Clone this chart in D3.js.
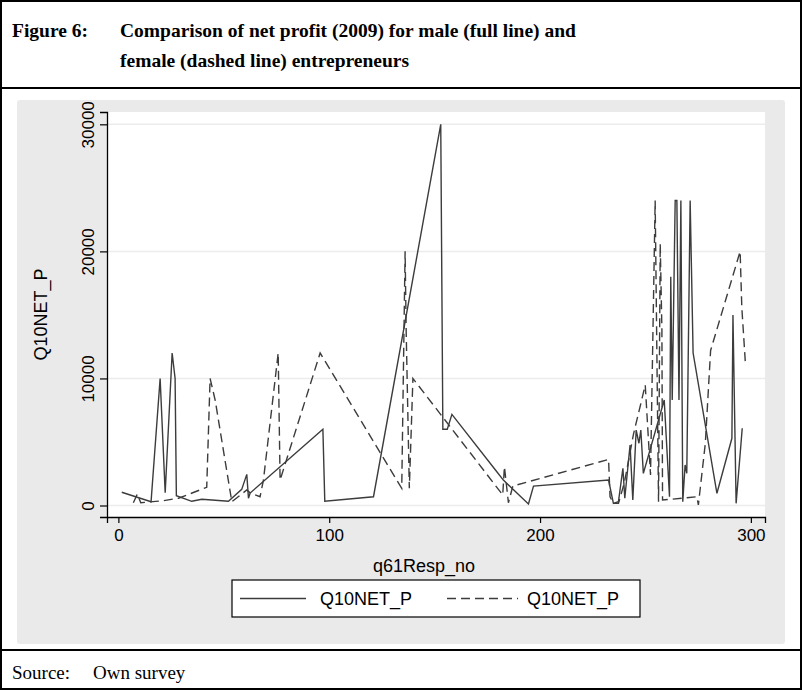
<!DOCTYPE html>
<html>
<head>
<meta charset="utf-8">
<script src="https://cdn.jsdelivr.net/npm/d3@7"></script>
<style>
  body { margin: 0; background: #fff; }
  text { fill: #000; }
</style>
</head>
<body>
<svg width="802" height="690"></svg>
<script>
// respondent number and net profit, male (full line)
const maleResp = [1.6, 15.5, 19.8, 22.2, 25.5, 26.9, 27.5, 34.8, 39.6, 52.2, 58.5, 60.9, 61.7, 62.5,
  97, 97.9, 121, 152.9, 153.9, 156, 158.2, 179.5, 182.6, 194.5, 196.9, 232.5, 234.8, 237.2,
  239.3, 240.2, 242.7, 244, 245.6, 246.9, 247.8, 249, 258.9, 261.4, 262, 262.7, 264.1, 264.9,
  265.9, 266.8, 267.7, 268.8, 269.6, 271.2, 272.6, 283.9, 291, 291.5, 293, 295.9];
const maleProfit = [1040, 300, 10000, 1000, 12000, 10000, 770, 330, 490, 330, 1270, 2450, 570, 980,
  6000, 330, 690, 30000, 6000, 6000, 7170, 2660, 2000, 120, 1530, 2000, 170, 300,
  2930, 570, 4760, 430, 5940, 4900, 5940, 2530, 8300, 690, 18000, 8300, 24000, 24000,
  8300, 24000, 300, 3190, 2530, 24000, 12000, 960, 5290, 15000, 170, 6080];

// female (dashed line)
const femaleResp = [7.1, 9, 10.6, 21.3, 28.5, 41.9, 43.5, 45.9, 53.8, 60.9, 62.5, 67.2, 68.8,
  75.8, 76.7, 95.7, 134.4, 136, 136.5, 138, 139.7, 182.3, 183.1, 185, 187.1, 232.5, 233.2,
  234.8, 237.2, 240, 244.3, 249.9, 252.4, 254.6, 255.1, 256.2, 257, 257.8, 258.1, 267.3,
  274.4, 275.1, 278.4, 280.9, 294.9, 295.7, 297.4];
const femaleProfit = [220, 900, 220, 380, 570, 1430, 10000, 8300, 300, 1220, 1000, 690, 2000,
  12000, 2000, 12000, 1350, 20000, 13800, 1350, 10000, 830, 3050, 220, 1530, 3630, 690,
  170, 170, 1800, 5600, 9480, 2400, 24000, 16700, 300, 20600, 13800, 430, 570,
  690, 40, 4900, 12200, 20000, 15600, 11200];

const xTicks = [0, 100, 200, 300];
const yTicks = [0, 10000, 20000, 30000];
const seriesNames = ["Q10NET_P", "Q10NET_P"];

const svg = d3.select("svg");
const W = 802, H = 690;
const ink = "#3c3c3c";

// outer frame and separators
svg.append("rect").attr("x", 1).attr("y", 1).attr("width", W - 2).attr("height", H - 2)
  .attr("fill", "none").attr("stroke", "#000").attr("stroke-width", 2);
svg.append("line").attr("x1", 0).attr("x2", W).attr("y1", 88).attr("y2", 88)
  .attr("stroke", "#000").attr("stroke-width", 2);
svg.append("line").attr("x1", 0).attr("x2", W).attr("y1", 650).attr("y2", 650)
  .attr("stroke", "#000").attr("stroke-width", 2);

// title
const title = svg.append("g").style("font-family", "'Liberation Serif', 'Times New Roman', serif")
  .style("font-weight", "bold").style("font-size", "19.5px");
title.append("text").attr("x", 12).attr("y", 37).text("Figure 6:");
title.append("text").attr("x", 120).attr("y", 37).text("Comparison of net profit (2009) for male (full line) and");
title.append("text").attr("x", 120).attr("y", 67).text("female (dashed line) entrepreneurs");

// source
const src = svg.append("g").style("font-family", "'Liberation Serif', 'Times New Roman', serif")
  .style("font-size", "19px");
src.append("text").attr("x", 12).attr("y", 679).text("Source:");
src.append("text").attr("x", 93).attr("y", 679).text("Own survey");

// graph region background
svg.append("rect").attr("x", 17).attr("y", 100).attr("width", 768).attr("height", 544)
  .attr("rx", 3).attr("fill", "#eaeaea");

const plot = { left: 107, right: 765, top: 112, bottom: 517 };
svg.append("rect").attr("x", plot.left).attr("y", plot.top)
  .attr("width", plot.right - plot.left).attr("height", plot.bottom - plot.top).attr("fill", "#fff");

const x = d3.scaleLinear().domain([-5.4, 306.7]).range([plot.left, plot.right]);
const y = d3.scaleLinear().domain([-905, 30970]).range([plot.bottom, plot.top]);

// grid
svg.append("g").selectAll("line").data(yTicks).join("line")
  .attr("x1", plot.left).attr("x2", plot.right)
  .attr("y1", d => y(d)).attr("y2", d => y(d))
  .attr("stroke", "#ececec").attr("stroke-width", 1.5);

const axisFont = "'Liberation Sans', Arial, Helvetica, sans-serif";

// x axis
const xAxis = svg.append("g").attr("transform", `translate(0,${plot.bottom})`)
  .call(d3.axisBottom(x).tickValues(xTicks).tickSize(6).tickPadding(6).tickFormat(d3.format("d")));
xAxis.select(".domain").attr("stroke", "#000").attr("stroke-width", 1.3);
xAxis.selectAll(".tick line").attr("stroke", "#000").attr("stroke-width", 1.2);
xAxis.selectAll("text").style("font-family", axisFont).style("font-size", "17px").attr("fill", "#000");

// y axis with rotated labels
const yAxis = svg.append("g").attr("transform", `translate(${plot.left},0)`)
  .call(d3.axisLeft(y).tickValues(yTicks).tickSize(7).tickFormat(d3.format("d")));
yAxis.select(".domain").attr("stroke", "#000").attr("stroke-width", 1.3);
yAxis.selectAll(".tick line").attr("stroke", "#000").attr("stroke-width", 1.2);
yAxis.selectAll("text")
  .attr("x", null).attr("dy", null)
  .attr("transform", "translate(-13,0) rotate(-90)")
  .attr("text-anchor", "middle")
  .style("font-family", axisFont).style("font-size", "17px").attr("fill", "#000");

// axis titles
svg.append("text").attr("x", 424).attr("y", 572)
  .attr("text-anchor", "middle").style("font-family", axisFont).style("font-size", "18px")
  .text("q61Resp_no");
svg.append("text").attr("transform", `translate(47,${(plot.top + plot.bottom) / 2}) rotate(-90)`)
  .attr("text-anchor", "middle").style("font-family", axisFont).style("font-size", "18px")
  .text("Q10NET_P");

// lines
const line = d3.line().x(d => x(d[0])).y(d => y(d[1]));
const male = d3.zip(maleResp, maleProfit);
const female = d3.zip(femaleResp, femaleProfit);

svg.append("path").datum(male).attr("d", line)
  .attr("fill", "none").attr("stroke", ink).attr("stroke-width", 1.4).attr("stroke-linejoin", "miter");
svg.append("path").datum(female).attr("d", line)
  .attr("fill", "none").attr("stroke", ink).attr("stroke-width", 1.4)
  .attr("stroke-dasharray", "9,5");

// legend
const lg = svg.append("g");
lg.append("rect").attr("x", 232).attr("y", 580).attr("width", 408).attr("height", 37)
  .attr("fill", "#fff").attr("stroke", "#000").attr("stroke-width", 1.2);
const items = [{ x0: 240, x1: 306, tx: 320, dash: null }, { x0: 447, x1: 518, tx: 527, dash: "9,5" }];
items.forEach((it, i) => {
  lg.append("line").attr("x1", it.x0).attr("x2", it.x1).attr("y1", 598.5).attr("y2", 598.5)
    .attr("stroke", ink).attr("stroke-width", 1.4).attr("stroke-dasharray", it.dash);
  lg.append("text").attr("x", it.tx).attr("y", 605).style("font-family", axisFont)
    .style("font-size", "18px").text(seriesNames[i]);
});
</script>
</body>
</html>
